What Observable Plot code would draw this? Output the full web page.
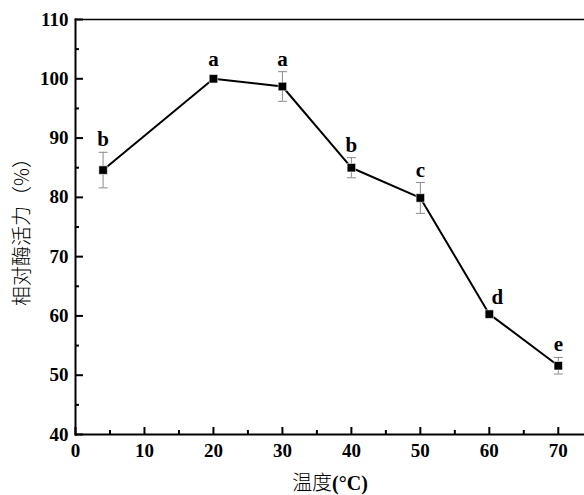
<!DOCTYPE html>
<html>
<head>
<meta charset="utf-8">
<script src="https://cdn.jsdelivr.net/npm/d3@7"></script>
<script src="https://cdn.jsdelivr.net/npm/@observablehq/plot@0.6"></script>
<style>
  html, body { margin: 0; padding: 0; background: #fff; }
</style>
</head>
<body>
<div id="chart"></div>
<script>
const temps = [4, 20, 30, 40, 50, 60, 70];
const activity = [84.6, 100, 98.7, 85.0, 79.9, 60.3, 51.6];
const errors = [3.0, 0, 2.5, 1.7, 2.6, 0.3, 1.4];
const letters = ["b", "a", "a", "b", "c", "d", "e"];
const xMajor = [0, 10, 20, 30, 40, 50, 60, 70];
const xMinor = [5, 15, 25, 35, 45, 55, 65];
const yMajor = [40, 50, 60, 70, 80, 90, 100, 110];
const yMinor = [45, 55, 65, 75, 85, 95, 105];
const xLabel = "温度(°C)";
const yLabel = "相对酶活力（%）";

const data = temps.map((t, i) => ({t, v: activity[i], e: errors[i], L: letters[i]}));

const capSymbol = {
  draw(ctx, size) {
    const w = Math.sqrt(size / Math.PI);
    ctx.moveTo(-w, 0);
    ctx.lineTo(w, 0);
  }
};

const serif = "'Liberation Serif', 'Times New Roman', serif";
const cjk = "'Noto Sans CJK SC', sans-serif";
const tickFont = {fontFamily: serif, fontWeight: "bold", fontSize: 19};
const withErr = data.filter(d => d.e > 0);

const plot = Plot.plot({
  width: 584,
  height: 495,
  marginLeft: 75,
  marginRight: 0,
  marginTop: 19,
  marginBottom: 61,
  style: {background: "#fff", color: "#000", fontFamily: serif},
  x: {domain: [0, 73.8]},
  y: {domain: [40, 110]},
  marks: [
    Plot.frame({anchor: "top", stroke: "#000", strokeWidth: 1.5}),
    Plot.frame({anchor: "left", stroke: "#000", strokeWidth: 2}),
    Plot.frame({anchor: "bottom", stroke: "#000", strokeWidth: 2}),
    Plot.axisY({ticks: yMajor, tickSize: -8, tickPadding: 15, label: null, strokeWidth: 2, ...tickFont}),
    Plot.axisY({ticks: yMinor, tickSize: -4, text: null, label: null, strokeWidth: 2}),
    Plot.axisX({ticks: xMajor, tickSize: -7, tickPadding: 16, label: null, strokeWidth: 2, ...tickFont}),
    Plot.axisX({ticks: xMinor, tickSize: -4, text: null, label: null, strokeWidth: 2}),
    Plot.ruleX(withErr, {x: "t", y1: d => d.v - d.e, y2: d => d.v + d.e, stroke: "#8a8a8a", strokeWidth: 1}),
    Plot.dot(withErr, {x: "t", y: d => d.v - d.e, symbol: capSymbol, r: 4.5, stroke: "#8a8a8a", strokeWidth: 1, fill: "none"}),
    Plot.dot(withErr, {x: "t", y: d => d.v + d.e, symbol: capSymbol, r: 4.5, stroke: "#8a8a8a", strokeWidth: 1, fill: "none"}),
    Plot.line(data, {x: "t", y: "v", stroke: "#000", strokeWidth: 2}),
    Plot.dot(data, {x: "t", y: "v", symbol: "square", r: 4.8, fill: "#000", stroke: "#fff", strokeWidth: 0.6}),
    Plot.text(data.filter(d => d.L !== "d"), {x: "t", y: d => d.v + Math.max(d.e, 1.1), text: "L", dy: -6, lineAnchor: "bottom", fontFamily: serif, fontWeight: "bold", fontSize: 21, fill: "#000"}),
    Plot.text(data.filter(d => d.L === "d"), {x: "t", y: d => d.v + Math.max(d.e, 1.1), text: "L", dy: -4, dx: 8, lineAnchor: "bottom", fontFamily: serif, fontWeight: "bold", fontSize: 21, fill: "#000"}),
    Plot.text([xLabel], {frameAnchor: "bottom", dy: 49, lineAnchor: "middle", textAnchor: "middle", fontFamily: serif, fontSize: 20, fill: "#000", className: "xlab"}),
    Plot.text([yLabel], {frameAnchor: "left", dx: -53, rotate: -90, lineAnchor: "middle", textAnchor: "middle", fontFamily: cjk, fontWeight: 300, fontSize: 20, fill: "#000"})
  ]
});

// split the x label so the CJK part is regular and the unit part bold serif
plot.querySelectorAll(".xlab text").forEach(t => {
  const m = t.textContent.match(/^([^(]+)(\(.*\))$/);
  if (!m) return;
  t.textContent = "";
  const a = document.createElementNS("http://www.w3.org/2000/svg", "tspan");
  a.setAttribute("font-family", cjk);
  a.setAttribute("font-weight", "300");
  a.textContent = m[1];
  const b = document.createElementNS("http://www.w3.org/2000/svg", "tspan");
  b.setAttribute("font-weight", "bold");
  b.textContent = m[2];
  t.appendChild(a);
  t.appendChild(b);
});

document.getElementById("chart").appendChild(plot);
</script>
</body>
</html>
